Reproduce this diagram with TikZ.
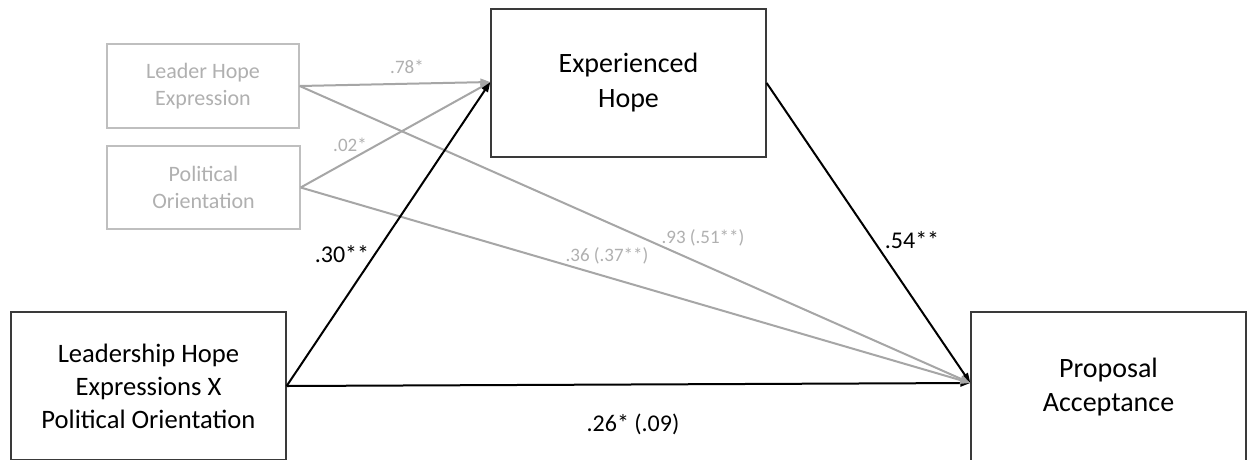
\documentclass[tikz,border=0pt]{standalone}
\usepackage{fontspec}
\setmainfont{Carlito}
\usetikzlibrary{arrows.meta}
\definecolor{lgray}{HTML}{A6A6A6}
\definecolor{tgray}{HTML}{B0B0B0}
\definecolor{bgray}{HTML}{BFBFBF}
\definecolor{dark}{HTML}{3A3A3A}
\begin{document}
\begin{tikzpicture}[x=1pt,y=-1pt,
 mainbox/.style={draw=dark,line width=1.3pt,inner sep=0pt,align=center,text=black},
 ctrlbox/.style={draw=bgray,line width=1.3pt,inner sep=0pt,align=center,text=tgray,font=\fontsize{22}{27}\selectfont},
 blackpath/.style={line width=2pt,black,-{Triangle[length=10pt,width=7pt]}},
 graypath/.style={line width=2pt,lgray,-{Triangle[length=10pt,width=7pt]}},
 blab/.style={font=\fontsize{24}{29}\selectfont,text=black,inner sep=0pt},
 glab/.style={font=\fontsize{19}{23}\selectfont,text=tgray,inner sep=0pt}]
\useasboundingbox (0,0) rectangle (1249,459);
\clip (0,0) rectangle (1249,459);
\fill[white] (0,0) rectangle (1249,459);

\node[ctrlbox,minimum width=192pt,minimum height=84pt] (LHE) at (203,86) {Leader Hope\\Expression};
\node[ctrlbox,minimum width=193pt,minimum height=83pt] (PO) at (203.5,187.5) {Political\\Orientation};
\node[mainbox,minimum width=275pt,minimum height=148pt,font=\fontsize{28}{35}\selectfont] (EH) at (628.5,83) {Experienced\\Hope};
\node[mainbox,minimum width=275pt,minimum height=148pt,font=\fontsize{26.6}{33}\selectfont] (LX) at (148.5,386) {Leadership Hope\\Expressions X\\Political Orientation};
\node[mainbox,minimum width=275pt,minimum height=150pt,font=\fontsize{28}{34}\selectfont] (PA) at (1108.5,387) {Proposal\\Acceptance};

\coordinate (PAin) at ([yshift=4pt]PA.west);
\coordinate (EHin) at ([yshift=1pt]EH.west);

\draw[blackpath] (LX.east) -- (PAin);
\draw[blackpath] (EH.east) -- (PAin);
\draw[graypath] (LHE.east) -- (EHin);
\draw[graypath] (PO.east) -- (EHin);
\draw[graypath] (LHE.east) -- (PAin);
\draw[graypath] (PO.east) -- (PAin);
\draw[blackpath] (LX.east) -- (EHin);

\node[glab] (l78) at (407,67) {.78*};
\node[glab] (l02) at (350,145) {.02*};
\node[glab] (l93) at (703,238) {.93 (.51**)};
\node[glab] (l36) at (607,256) {.36 (.37**)};
\node[blab] (l30) at (342,254) {.30**};
\node[blab] (l54) at (912,240) {.54**};
\node[blab] (l26) at (633,424) {.26* (.09)};
\end{tikzpicture}
\end{document}
